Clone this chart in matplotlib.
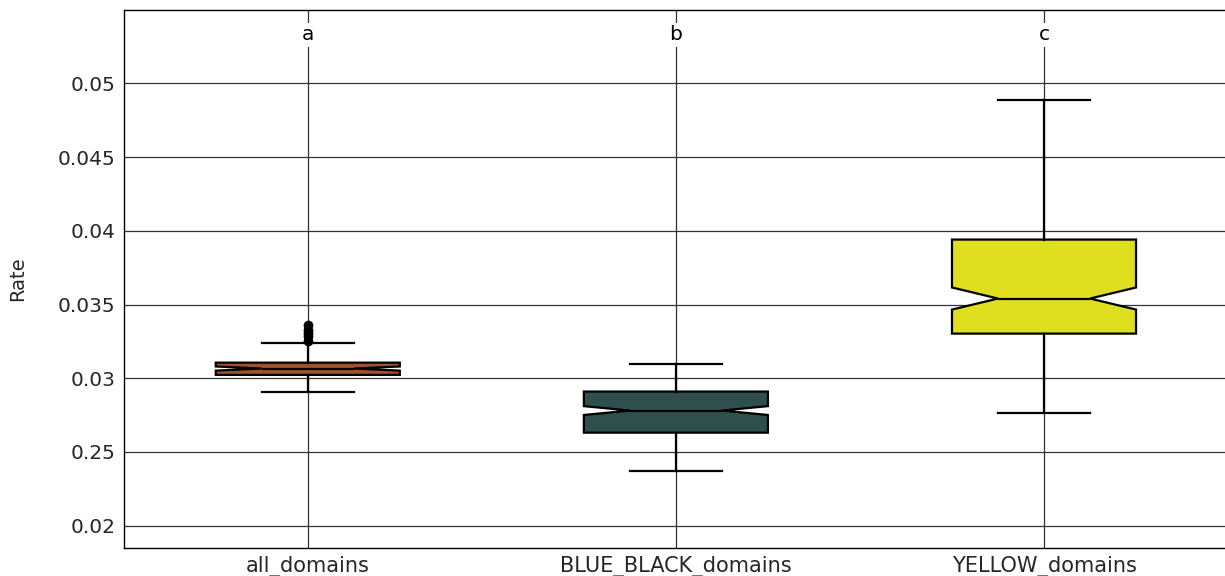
import numpy as np
import matplotlib.pyplot as plt

groups = ["all_domains", "BLUE_BLACK_domains", "YELLOW_domains"]
letters = ["a", "b", "c"]
colors = ["#A0522D", "#2F4F4F", "#DFDF1F"]

whislo = [0.02910, 0.02373, 0.02767]
q1 = [0.03023, 0.02631, 0.03303]
med = [0.03066, 0.02781, 0.03541]
q3 = [0.03106, 0.02910, 0.03941]
whishi = [0.03242, 0.03100, 0.04885]
ci_lo = [0.03052, 0.02751, 0.03466]
ci_hi = [0.03080, 0.02811, 0.03616]
fliers = [[0.03256, 0.03286, 0.03306, 0.03330, 0.03364], [], []]

yticks = [0.02, 0.025, 0.03, 0.035, 0.04, 0.045, 0.05]
ytick_labels = ["0.02", "0.25", "0.03", "0.035", "0.04", "0.045", "0.05"]

stats = []
for i in range(len(groups)):
    stats.append(dict(label=groups[i], whislo=whislo[i], q1=q1[i], med=med[i], q3=q3[i],
                      whishi=whishi[i], cilo=ci_lo[i], cihi=ci_hi[i], fliers=fliers[i]))

fig, ax = plt.subplots(figsize=(12.25, 5.76), dpi=100)
fig.subplots_adjust(left=0.101, right=1.0025, top=0.983, bottom=0.049)

bp = ax.bxp(stats, positions=[1, 2, 3], widths=0.5, shownotches=True, patch_artist=True,
            boxprops=dict(linewidth=1.6, edgecolor="black"),
            medianprops=dict(color="black", linewidth=1.6),
            whiskerprops=dict(color="black", linewidth=1.6),
            capprops=dict(color="black", linewidth=1.6),
            flierprops=dict(marker="o", markerfacecolor="black", markeredgecolor="black", markersize=6),
            capwidths=0.25, zorder=3)
for patch, c in zip(bp["boxes"], colors):
    patch.set_facecolor(c)

ax.set_xlim(0.5, 3.5)
ax.set_ylim(0.0185, 0.0550)
ax.set_yticks(yticks)
ax.set_yticklabels(ytick_labels)
ax.set_xticks([1, 2, 3])
ax.set_xticklabels(groups)
ax.tick_params(axis="both", length=0, labelcolor="#262626", pad=6)
ax.tick_params(axis="x", labelsize=15)
ax.tick_params(axis="y", labelsize=14.5)
ax.grid(True, color="#333333", linewidth=0.9, zorder=0)
ax.set_axisbelow(True)
ax.set_ylabel("Rate", fontsize=14, color="#262626", labelpad=22)

for i, l in enumerate(letters):
    ax.text(i + 1, 0.0533, l, ha="center", va="center", fontsize=14.5, color="black",
            bbox=dict(facecolor="white", edgecolor="none", pad=2), zorder=4)

for s in ax.spines.values():
    s.set_color("black")
    s.set_linewidth(1)

plt.savefig("out.png")
